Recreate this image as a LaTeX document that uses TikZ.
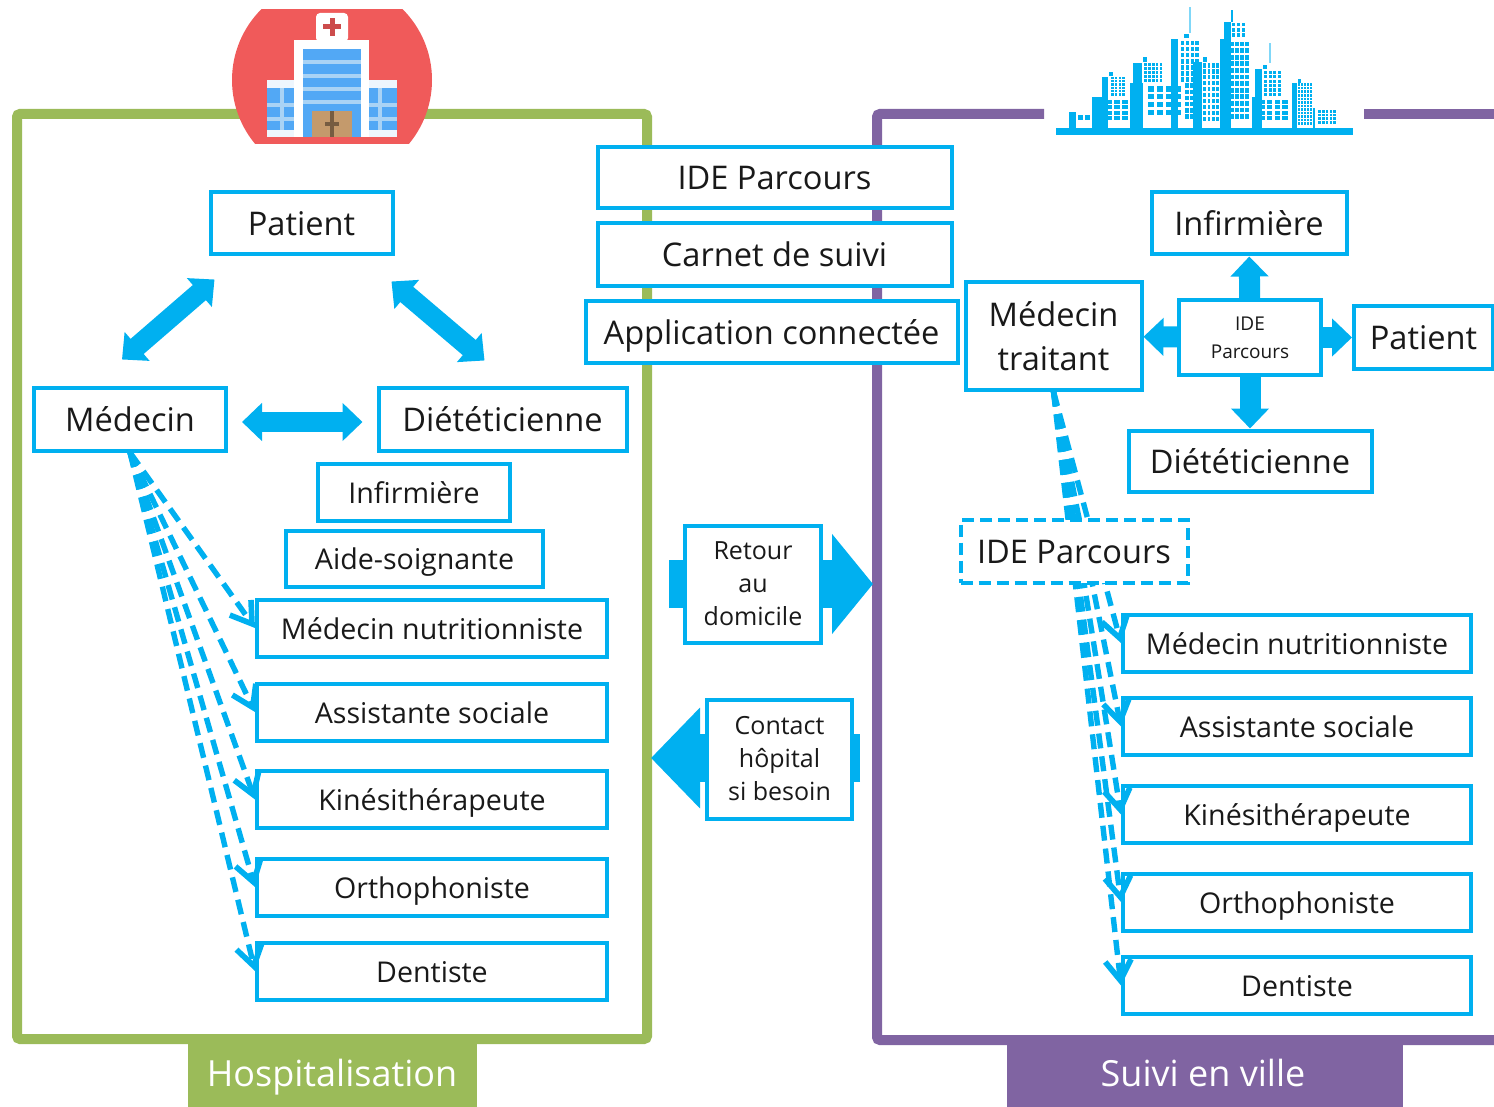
\documentclass[tikz,border=0pt]{standalone}
\usepackage{fontspec}
\setmainfont{Open Sans}
\usetikzlibrary{arrows.meta,calc}
\definecolor{lien}{HTML}{00B0F0}
\definecolor{hopvert}{HTML}{9BBB59}
\definecolor{villeviolet}{HTML}{8064A2}
\definecolor{hoprouge}{HTML}{F05A5A}
\definecolor{hopbleu}{HTML}{52A8F5}
\definecolor{hopclair}{HTML}{A9D3F5}
\definecolor{hopporte}{HTML}{C49A6C}
\tikzset{
  >=stealth,
  x=0.5pt,y=-0.5pt,
  sz/.style 2 args={minimum width=#1*0.5pt,minimum height=#2*0.5pt},
  box/.style={draw=lien,fill=white,line width=2pt,inner sep=0pt,align=center,text=black!90},
  grand/.style={box,font=\fontsize{16.3}{22}\selectfont,text height=12pt,text depth=0pt},
  grandb/.style={box,font=\fontsize{16.3}{22}\selectfont},
  moyen/.style={box,font=\fontsize{14.3}{18}\selectfont,text height=11pt,text depth=0pt},
  petit/.style={box,font=\fontsize{12.5}{16.5}\selectfont},
  mini/.style={box,font=\fontsize{9.5}{14}\selectfont},
  onglet/.style={text=white,inner sep=0pt,font=\fontsize{18}{22}\selectfont,text height=13pt,text depth=0pt},
  cadre/.style={line width=5pt,rounded corners=1.5pt},
  bloc/.style={lien,line width=#1*0.5pt},
  tete/.style={{Triangle[width=18.5pt,length=10pt]}-{Triangle[width=18.5pt,length=10pt]}},
  pointille/.style={draw=lien,line width=2.7pt,dash pattern=on 7.5pt off 4pt,-{Straight Barb[length=10pt,width=13pt,line width=2.8pt]}}
}
\newcommand{\citywin}[6]{%
  \pgfmathsetmacro{\pasx}{(#3-#1)/#5}
  \pgfmathsetmacro{\pasy}{(#4-#2)/#6}
  \foreach \i in {1,...,#5}{
    \foreach \j in {1,...,#6}{
      \fill[lien] ({#1+(\i-1)*\pasx},{#2+(\j-1)*\pasy}) rectangle ++({0.72*\pasx},{0.72*\pasy});
    }
  }%
}
\begin{document}
\begin{tikzpicture}
  \useasboundingbox (0,0) rectangle (1494,1107);

  % cadres
  \draw[hopvert,cadre] (17,114) rectangle (647,1039);
  \draw[villeviolet,cadre] (1044,114) -- (877,114) -- (877,1040) -- (1500,1040);
  \draw[villeviolet,cadre] (1364,114) -- (1500,114);
  \fill[hopvert] (188,1043) rectangle (477,1107);
  \fill[villeviolet] (1007,1043) rectangle (1403,1107);
  \node[onglet] (hospi) at (332,1073) {Hospitalisation};
  \node[onglet] (ville) at (1203,1073) {Suivi en ville};

  % hopital
  \begin{scope}
    \clip (220,10) rectangle (445,144);
    \fill[hoprouge] (332,80) circle[radius=100];
  \end{scope}
  \fill[white,rounded corners=2pt] (316,13) rectangle (348,42);
  \fill[hoprouge!85!black] (329.5,18) rectangle (334.5,36);
  \fill[hoprouge!85!black] (323,24.5) rectangle (341,29.5);
  \fill[hopclair!20] (267,80) rectangle (397,137);
  \fill[hopbleu] (267,88) rectangle (397,130);
  \foreach \xx in {280,378} \fill[hopclair] (\xx,88) rectangle (\xx+4,130);
  \foreach \yy in {103,117} \fill[hopclair] (267,\yy) rectangle (397,\yy+4);
  \fill[white] (294,40) rectangle (369,137);
  \fill[hopbleu] (303,49) rectangle (361,137);
  \foreach \yy in {60,74,87,100} \fill[hopclair] (303,\yy) rectangle (361,\yy+4);
  \fill[hopporte] (312,111) rectangle (352,137);
  \fill[hopporte!60!black] (330,111) rectangle (334,137);
  \fill[hopporte!60!black] (325,122) rectangle (339,126);

  % ville
  \begin{scope}[shift={(1040,0)},x=0.1667pt,y=-0.1667pt]
    \fill[lien] (48,385) rectangle (938,405);
    \foreach \xa/\ya/\xb in {88/337/108,155/292/190,175/292/190,187/230/205,280/190/305,270/248/310,392/118/414,
      460/187/485,540/118/565,553/65/573,635/292/648,645/207/665,755/248/770,820/325/824}
      \fill[lien] (\xa,\ya) rectangle (\xb,385);
    \citywin{115}{345}{175}{365}{3}{1}
    \citywin{213}{230}{258}{290}{4}{6}
    \citywin{200}{300}{292}{365}{4}{4}
    \citywin{312}{190}{370}{248}{5}{5}
    \citywin{323}{258}{430}{352}{4}{4}
    \citywin{423}{123}{480}{250}{4}{7}
    \citywin{435}{250}{464}{362}{2}{6}
    \citywin{490}{190}{552}{368}{5}{10}
    \citywin{570}{125}{630}{362}{4}{12}
    \citywin{575}{68}{620}{115}{3}{3}
    \citywin{672}{212}{726}{292}{4}{6}
    \citywin{657}{300}{750}{365}{4}{4}
    \citywin{775}{250}{817}{378}{5}{12}
    \citywin{833}{330}{892}{374}{5}{4}
    \fill[lien!50] (447,20) rectangle (452,100);
    \fill[lien!50] (688,130) rectangle (692,190);
    \fill[lien] (432,103) rectangle (448,115);
    \fill[lien] (308,172) rectangle (320,185);
    \fill[lien] (488,172) rectangle (500,185);
    \fill[lien] (573,30) rectangle (580,65);
    \fill[lien] (670,195) rectangle (680,207);
    \fill[lien] (208,215) rectangle (218,228);
    \fill[lien] (773,238) rectangle (783,248);
  \end{scope}

  % fleches derriere les cases
  \coordinate (retourA) at (669,584);
  \coordinate (retourB) at (873,584);
  \coordinate (contactA) at (860,758);
  \coordinate (contactB) at (651,758);
  \draw[bloc=48,-{Triangle[width=49pt,length=20.5pt]}] (retourA) -- (retourB);
  \draw[bloc=48,-{Triangle[width=49pt,length=24.5pt]}] (contactA) -- (contactB);

  % hospitalisation
  \node[grand,sz={182}{62}] (hpatient) at (301.5,223.5) {Patient};
  \node[grand,sz={192}{63}] (hmedecin) at (130,419) {Médecin};
  \node[grand,sz={248}{63}] (hdiet) at (502.5,419) {Diététicienne};
  \node[moyen,sz={192}{57}] (hinf) at (414,492) {Infirmière};
  \node[moyen,sz={257}{56}] (haide) at (414.5,558.5) {Aide-soignante};
  \foreach \yy/\lab/\nom in {628/Médecin nutritionniste/hnut,712/Assistante sociale/hass,
    799.5/Kinésithérapeute/hkin,887/Orthophoniste/hort,971/Dentiste/hden}
  {
    \node[moyen,sz={350}{57}] (\nom) at (432,\yy) {\lab};
    \draw[pointille] (hmedecin.south) -- (\nom.west);
  }
  \coordinate (patG) at ($(hpatient.south west)+(6,23)$);
  \coordinate (patD) at ($(hpatient.south east)+(-3,25)$);
  \coordinate (medH) at ($(hmedecin.north)+(-8,-26)$);
  \coordinate (dieH) at ($(hdiet.north)+(-18,-25)$);
  \coordinate (medD) at ($(hmedecin.east)+(14,3)$);
  \coordinate (dieG) at ($(hdiet.west)+(-14,3)$);
  \draw[bloc=20,tete] (patG) -- (medH);
  \draw[bloc=20,tete] (patD) -- (dieH);
  \draw[bloc=20,tete] (medD) -- (dieG);

  % suivi en ville
  \node[grandb,sz={176}{107}] (vmt) at (1053.5,336) {Médecin\\traitant};
  \foreach \yy/\lab/\nom in {643/Médecin nutritionniste/vnut,726.5/Assistante sociale/vass,
    814.5/Kinésithérapeute/vkin,902/Orthophoniste/vort,985.5/Dentiste/vden}
  {
    \node[moyen,sz={348}{57}] (\nom) at (1297,\yy) {\lab};
    \draw[pointille] (vmt.south) -- (\nom.west);
  }
  \node[grand,sz={195}{62}] (vinf) at (1249,223.5) {Infirmière};
  \node[mini,sz={142}{74}] (vide) at (1250,337.5) {IDE\\Parcours};
  \node[grand,sz={139}{62}] (vpat) at (1423.5,337.5) {Patient};
  \node[grand,sz={243}{61}] (vdiet) at (1250,461) {Diététicienne};
  \node[grand,sz={227}{63},dash pattern=on 6pt off 3pt] (vpar) at (1074,551) {IDE Parcours};
  \foreach \nom in {vinf,vmt,vpat,vdiet}
    \draw[bloc=21,-{Triangle[width=18.5pt,length=10pt]}] (vide) -- (\nom);

  % milieu
  \node[grand,sz={354}{61}] (mide) at (774.5,178) {IDE Parcours};
  \node[grand,sz={354}{63}] (mcar) at (774.5,255) {Carnet de suivi};
  \node[grand,sz={372}{61}] (mapp) at (771.5,332) {Application connectée};
  \node[petit,sz={136}{117}] (retour) at (753,584) {Retour\\au\\domicile};
  \node[petit,sz={145}{119}] (contact) at (779.5,759) {Contact\\hôpital\\si besoin};
\end{tikzpicture}
\end{document}
